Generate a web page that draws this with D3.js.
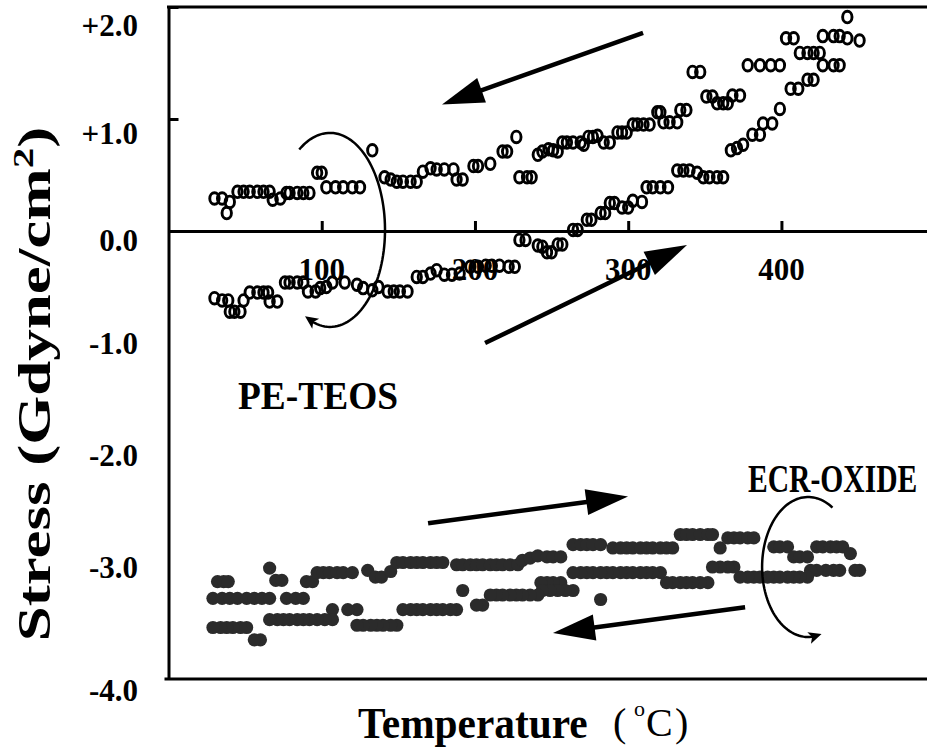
<!DOCTYPE html>
<html>
<head>
<meta charset="utf-8">
<script src="https://cdn.jsdelivr.net/npm/d3@7"></script>
<style>
body { margin: 0; background: #fff; }
text { font-family: "Liberation Serif", "Times New Roman", serif; font-weight: bold; fill: #000; }
</style>
</head>
<body>
<div id="chart"></div>
<script>
// PE-TEOS, heating run (lower branch going up to ~450 C)  [temperature C, stress Gdyne/cm2]
var teosHeat = [[30,-0.60],[35,-0.62],[39,-0.62],[40,-0.72],[43,-0.72],[47,-0.72],[49,-0.62],[53,-0.55],[58,-0.55],[62,-0.55],
    [65,-0.55],[66,-0.63],[71,-0.63],[76,-0.46],[79,-0.46],[84,-0.46],[88,-0.46],[91,-0.54],[96,-0.54],[99,-0.51],
    [103,-0.50],[107,-0.46],[115,-0.46],[123,-0.48],[127,-0.51],[133,-0.53],[137,-0.50],[143,-0.54],[147,-0.54],[151,-0.54],
    [156,-0.54],[162,-0.41],[166,-0.41],[171,-0.38],[175,-0.35],[180,-0.39],[185,-0.39],[190,-0.38],[197,-0.32],[202,-0.32],
    [207,-0.31],[211,-0.31],[216,-0.31],[222,-0.32],[226,-0.32],[229,-0.08],[233,-0.08],[241,-0.13],[244,-0.14],[247,-0.19],
    [250,-0.19],[254,-0.12],[257,-0.12],[264,0.01],[267,0.01],[273,0.10],[276,0.10],[282,0.16],[285,0.16],[288,0.25],
    [291,0.25],[296,0.21],[300,0.21],[303,0.27],[309,0.26],[312,0.39],[316,0.39],[321,0.39],[326,0.39],[332,0.54],
    [336,0.54],[340,0.54],[345,0.52],[349,0.48],[353,0.48],[358,0.48],[362,0.48],[367,0.72],[371,0.74],[375,0.77],
    [381,0.86],[386,0.86],[388,0.96],[394,0.96],[399,1.09],[406,1.27],[411,1.27],[417,1.35],[421,1.35],[412,1.59],
    [417,1.59],[421,1.59],[425,1.59],[427,1.48],[434,1.48],[438,1.48],[427,1.74],[434,1.74],[438,1.74],[443,1.72],
    [451,1.70],[443,1.91]];

// PE-TEOS, cooling run (upper branch)
var teosCool = [[403,1.72],[408,1.72],[399,1.48],[393,1.48],[386,1.48],[378,1.48],[373,1.21],[368,1.21],[365,1.14],[362,1.14],
    [358,1.14],[355,1.20],[351,1.20],[347,1.42],[342,1.42],[338,1.08],[334,1.08],[332,0.97],[327,0.97],[323,0.97],
    [321,1.06],[319,1.06],[314,0.95],[310,0.95],[306,0.95],[303,0.95],[299,0.88],[296,0.88],[293,0.88],[288,0.79],
    [284,0.79],[280,0.85],[277,0.84],[274,0.84],[271,0.77],[269,0.79],[264,0.79],[260,0.79],[257,0.79],[254,0.71],
    [251,0.72],[248,0.73],[244,0.71],[241,0.68],[237,0.48],[234,0.48],[229,0.48],[227,0.84],[221,0.71],[218,0.71],
    [210,0.60],[202,0.58],[199,0.58],[192,0.46],[188,0.46],[186,0.55],[180,0.55],[175,0.55],[171,0.56],[166,0.53],
    [162,0.44],[158,0.44],[153,0.44],[149,0.44],[145,0.46],[141,0.48],[133,0.72],[125,0.39],[120,0.39],[114,0.39],
    [109,0.39],[103,0.39],[100,0.52],[97,0.52],[92,0.34],[88,0.34],[84,0.34],[79,0.34],[77,0.34],[73,0.29],
    [68,0.28],[66,0.35],[62,0.35],[58,0.35],[53,0.35],[49,0.35],[45,0.35],[40,0.26],[38,0.16],[35,0.29],[30,0.29]];

// ECR-OXIDE, heating run (upper band)
var ecrHeat = [[29,-3.28],[35,-3.28],[40,-3.28],[45,-3.28],[51,-3.28],[56,-3.28],[61,-3.28],[66,-3.28],[32,-3.13],[36,-3.13],
    [39,-3.13],[66,-3.01],[70,-3.12],[74,-3.12],[77,-3.28],[83,-3.28],[88,-3.28],[90,-3.13],[94,-3.13],[97,-3.05],
    [101,-3.05],[105,-3.05],[110,-3.05],[114,-3.05],[120,-3.05],[130,-3.03],[135,-3.09],[139,-3.09],[145,-3.04],[149,-2.96],
    [153,-2.96],[158,-2.96],[162,-2.96],[166,-2.96],[171,-2.96],[175,-2.96],[179,-2.96],[188,-2.98],[192,-2.98],[197,-2.98],
    [201,-2.98],[205,-2.98],[210,-2.98],[214,-2.98],[218,-2.98],[223,-2.98],[228,-2.98],[231,-2.94],[236,-2.92],[241,-2.90],
    [247,-2.91],[251,-2.91],[256,-2.91],[264,-2.80],[269,-2.80],[273,-2.80],[277,-2.80],[282,-2.80],[290,-2.83],[295,-2.83],
    [299,-2.83],[303,-2.83],[308,-2.83],[312,-2.83],[316,-2.83],[321,-2.83],[325,-2.83],[329,-2.83],[334,-2.71],[338,-2.71],
    [342,-2.71],[347,-2.71],[352,-2.71],[355,-2.71],[360,-2.83],[365,-2.74],[369,-2.74],[373,-2.74],[378,-2.74],[382,-2.74],
    [395,-2.82],[399,-2.82],[404,-2.82],[408,-2.91],[412,-2.91],[417,-2.91],[423,-2.82],[427,-2.82],[432,-2.82],[436,-2.82],
    [440,-2.82],[445,-2.88]];

// ECR-OXIDE, cooling run (lower band)
var ecrCool = [[451,-3.03],[448,-3.03],[438,-3.03],[434,-3.03],[429,-3.03],[423,-3.03],[419,-3.03],[417,-3.09],[412,-3.09],[408,-3.09],
    [404,-3.09],[399,-3.09],[395,-3.09],[391,-3.09],[386,-3.09],[382,-3.09],[378,-3.09],[373,-3.09],[369,-3.00],[365,-3.00],
    [360,-3.00],[355,-3.00],[352,-3.14],[347,-3.14],[342,-3.14],[338,-3.14],[334,-3.14],[329,-3.14],[325,-3.14],[321,-3.05],
    [316,-3.05],[312,-3.05],[308,-3.05],[303,-3.05],[299,-3.05],[295,-3.05],[290,-3.05],[286,-3.05],[282,-3.05],[277,-3.05],
    [273,-3.05],[269,-3.05],[264,-3.05],[256,-3.14],[251,-3.14],[247,-3.14],[243,-3.14],[282,-3.29],[264,-3.21],[259,-3.21],
    [254,-3.21],[249,-3.21],[244,-3.21],[241,-3.25],[236,-3.25],[231,-3.25],[227,-3.25],[223,-3.25],[218,-3.25],[214,-3.25],
    [210,-3.25],[205,-3.34],[201,-3.34],[192,-3.21],[188,-3.38],[184,-3.38],[179,-3.38],[175,-3.38],[171,-3.38],[166,-3.38],
    [162,-3.38],[158,-3.38],[153,-3.38],[149,-3.52],[145,-3.52],[140,-3.52],[136,-3.52],[132,-3.52],[127,-3.52],[123,-3.52],
    [123,-3.38],[117,-3.38],[107,-3.38],[107,-3.47],[102,-3.47],[97,-3.47],[92,-3.47],[88,-3.47],[84,-3.47],[79,-3.47],
    [75,-3.47],[71,-3.47],[66,-3.47],[60,-3.65],[56,-3.65],[51,-3.54],[47,-3.54],[42,-3.54],[38,-3.54],[34,-3.54],[29,-3.54]];

var xTicks = [100, 200, 300, 400];
var yTicks = [2, 1, 0, -1, -2, -3, -4];
var yTickText = ['+2.0', '+1.0', '0.0', '-1.0', '-2.0', '-3.0', '-4.0'];
var yTickMarks = [2, 1];

// straight arrows: [tail, tip] in data units
var straightArrows = [
    [[309.7, 1.77], [178.5, 1.13]],
    [[206.6, -1.00], [338.4, -0.125]],
    [[169.4, -2.61], [299.9, -2.37]],
    [[376.3, -3.36], [250.9, -3.59]]
];
// curled arrows: centre in data units
var curlCentres = [[105.4, 0.01], [417.4, -3.0]];

var width = 927, height = 750;
var svg = d3.select('#chart').append('svg')
    .attr('width', width)
    .attr('height', height);

var x = d3.scaleLinear().domain([0, 495]).range([168.5, 927]);
var y = d3.scaleLinear().domain([-4, 2]).range([679, 7]);

// frame lines (top and bottom)
svg.append('line')
    .attr('x1', x(0) - 1.5).attr('x2', x(495))
    .attr('y1', y(2)).attr('y2', y(2))
    .attr('stroke', '#000').attr('stroke-width', 3);
svg.append('line')
    .attr('x1', x(0) - 4).attr('x2', x(495))
    .attr('y1', y(-4)).attr('y2', y(-4))
    .attr('stroke', '#000').attr('stroke-width', 3);

// left axis, ticks pointing inside
var yAxis = svg.append('g')
    .attr('transform', 'translate(' + x(0) + ',0)')
    .call(d3.axisRight(y).tickValues(yTickMarks).tickSize(10).tickSizeOuter(0).tickFormat(''));
yAxis.selectAll('path, line').attr('stroke', '#000').attr('stroke-width', 3);

// zero line with temperature ticks
var xAxis = svg.append('g')
    .attr('transform', 'translate(0,' + y(0) + ')')
    .call(d3.axisTop(x).tickValues(xTicks).tickSize(10).tickSizeOuter(0).tickFormat(''));
xAxis.selectAll('path, line').attr('stroke', '#000').attr('stroke-width', 3);

svg.selectAll('.xlab')
    .data(xTicks)
    .enter().append('text')
    .attr('class', 'xlab')
    .attr('x', function(d) { return x(d); })
    .attr('y', y(0) + 49)
    .attr('text-anchor', 'middle')
    .style('font-size', '31px')
    .text(function(d) { return d; });

// labels near the top / bottom are nudged down like in the original
var yShift = {'2': 18, '1': 14, '0': 9, '-4': 11};
svg.selectAll('.ylab')
    .data(yTicks)
    .enter().append('text')
    .attr('class', 'ylab')
    .attr('x', 138)
    .attr('y', function(d) { return y(d) + 11 + (yShift[d] || 0); })
    .attr('text-anchor', 'end')
    .style('font-size', '31px')
    .text(function(d, i) { return yTickText[i]; });

// data
var teos = teosHeat.concat(teosCool);
svg.append('g').selectAll('ellipse')
    .data(teos)
    .enter().append('ellipse')
    .attr('cx', function(d) { return x(d[0]); })
    .attr('cy', function(d) { return y(d[1]); })
    .attr('rx', 4.7)
    .attr('ry', 5.8)
    .attr('fill', 'none')
    .attr('stroke', '#000')
    .attr('stroke-width', 2.9);

var ecr = ecrHeat.concat(ecrCool);
svg.append('g').selectAll('circle')
    .data(ecr)
    .enter().append('circle')
    .attr('cx', function(d) { return x(d[0]); })
    .attr('cy', function(d) { return y(d[1]); })
    .attr('r', 6.6)
    .attr('fill', '#2b2b2b');

// arrows
function straightArrow(a) {
    var p0 = [x(a[0][0]), y(a[0][1])], p1 = [x(a[1][0]), y(a[1][1])];
    var dx = p1[0] - p0[0], dy = p1[1] - p0[1];
    var len = Math.sqrt(dx * dx + dy * dy), ux = dx / len, uy = dy / len;
    var L = 42, W = 13;
    var bx = p1[0] - ux * L, by = p1[1] - uy * L;
    svg.append('line')
        .attr('x1', p0[0]).attr('y1', p0[1])
        .attr('x2', bx + ux * 4).attr('y2', by + uy * 4)
        .attr('stroke', '#000').attr('stroke-width', 4.5);
    svg.append('path')
        .attr('d', 'M' + p1[0] + ',' + p1[1] +
            'L' + (bx - uy * W) + ',' + (by + ux * W) +
            'L' + (bx + uy * W) + ',' + (by - ux * W) + 'Z')
        .attr('fill', '#000');
}
straightArrows.forEach(straightArrow);

var curls = [
    {c: curlCentres[0], rx: 55, ry: 97, a0: -124, a1: 117},
    {c: curlCentres[1], rx: 46, ry: 70, a0: -58, a1: -287}
];
curls.forEach(function(k) {
    var cx = x(k.c[0]), cy = y(k.c[1]);
    var pts = d3.range(0, 91).map(function(i) {
        var a = (k.a0 + (k.a1 - k.a0) * i / 90) * Math.PI / 180;
        return [cx + k.rx * Math.cos(a), cy + k.ry * Math.sin(a)];
    });
    svg.append('path')
        .attr('d', d3.line()(pts.slice(0, 88)))
        .attr('fill', 'none')
        .attr('stroke', '#000')
        .attr('stroke-width', 2.5);
    var tip = pts[90], back = pts[86];
    var dx = tip[0] - back[0], dy = tip[1] - back[1];
    var len = Math.sqrt(dx * dx + dy * dy), ux = dx / len, uy = dy / len;
    var L = 13, W = 6;
    var bx = tip[0] - ux * L, by = tip[1] - uy * L;
    svg.append('path')
        .attr('d', 'M' + tip[0] + ',' + tip[1] +
            'L' + (bx - uy * W) + ',' + (by + ux * W) +
            'L' + (bx + ux * 3) + ',' + (by + uy * 3) +
            'L' + (bx + uy * W) + ',' + (by - ux * W) + 'Z')
        .attr('fill', '#000');
});

// series names (the original lettering is a bit condensed)
svg.append('text')
    .attr('transform', 'translate(238,409) scale(0.935,1)')
    .style('font-size', '40px')
    .text('PE-TEOS');
svg.append('text')
    .attr('transform', 'translate(748,492) scale(0.74,1)')
    .style('font-size', '40px')
    .text('ECR-OXIDE');

// axis titles
svg.append('text')
    .attr('transform', 'translate(358,738) scale(0.94,1)')
    .style('font-size', '44px')
    .text('Temperature');
svg.append('text').attr('x', 613).attr('y', 736).style('font-size', '40px').style('font-weight', 'normal').text('(');
svg.append('text').attr('x', 634).attr('y', 716).style('font-size', '22px').style('font-weight', 'normal').text('o');
svg.append('text').attr('x', 646).attr('y', 736).style('font-size', '40px').style('font-weight', 'normal').text('C');
svg.append('text').attr('x', 675).attr('y', 736).style('font-size', '40px').style('font-weight', 'normal').text(')');

var yl = svg.append('text')
    .attr('transform', 'translate(50,384) rotate(-90) scale(1.37,1)')
    .attr('text-anchor', 'middle')
    .style('font-size', '46px');
yl.append('tspan').text('Stress (Gdyne/cm');
yl.append('tspan').attr('dy', -17).style('font-size', '30px').text('2');
yl.append('tspan').attr('dy', 17).text(')');
</script>
</body>
</html>
